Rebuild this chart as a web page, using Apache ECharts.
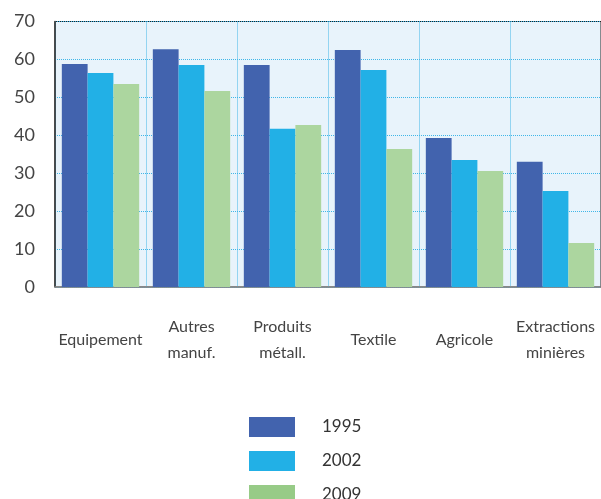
<!DOCTYPE html>
<html><head><meta charset="utf-8">
<script src="https://cdn.jsdelivr.net/npm/echarts@6/dist/echarts.min.js"></script>
<style>html,body{margin:0;padding:0;background:#fff}#c{width:601px;height:499px}</style>
</head><body><div id="c"></div>
<script>
const categories = ['Equipement', 'Autres\nmanuf.', 'Produits\nmétall.', 'Textile', 'Agricole', 'Extractions\nminières'];
const s1995 = [58.8, 62.7, 58.5, 62.5, 39.3, 33.0];
const s2002 = [56.4, 58.5, 41.7, 57.2, 33.5, 25.3];
const s2009 = [53.5, 51.7, 42.7, 36.4, 30.6, 11.6];
const yTicks = [0, 10, 20, 30, 40, 50, 60, 70];

const font = 'Lato, "Open Sans", sans-serif';
const chart = echarts.init(document.getElementById('c'), null, {renderer: 'canvas'});
chart.setOption({
  animation: false,
  textStyle: {fontFamily: font},
  grid: {left: 55, right: 0, top: 21.5, bottom: 212, show: true, backgroundColor: '#e8f3fb', borderColor: '#222', borderWidth: 1},
  legend: {
    orient: 'vertical', left: 244, top: 412, height: 200, itemWidth: 46, itemHeight: 20, itemGap: 14,
    icon: 'rect',
    textStyle: {fontSize: 17, color: '#333', fontFamily: font, padding: [0, 0, 0, 22]},
    data: [
      {name: '1995'},
      {name: '2002'},
      {name: '2009', itemStyle: {color: '#97cb87'}}
    ]
  },
  xAxis: {
    type: 'category', data: categories,
    axisLine: {lineStyle: {color: '#888', width: 1.5}},
    axisTick: {show: false},
    axisLabel: {fontSize: 16, color: '#444', fontFamily: font, lineHeight: 26, verticalAlign: 'middle', margin: 53, interval: 0},
    splitLine: {show: true, lineStyle: {type: 'dotted', color: '#3fb6e8', width: 1}}
  },
  yAxis: {
    type: 'value', min: yTicks[0], max: yTicks[yTicks.length - 1], interval: 10,
    axisLine: {show: true, lineStyle: {color: '#333', width: 1.5}},
    axisTick: {show: false},
    axisLabel: {fontSize: 18, color: '#444', fontFamily: font, margin: 20},
    splitLine: {show: true, lineStyle: {type: 'dotted', color: '#3fb6e8', width: 1}}
  },
  series: [
    {name: '1995', type: 'bar', data: s1995, barGap: '0%', barCategoryGap: '15%', itemStyle: {color: '#4263ae'}},
    {name: '2002', type: 'bar', data: s2002, barGap: '0%', barCategoryGap: '15%', itemStyle: {color: '#22b0e6'}},
    {name: '2009', type: 'bar', data: s2009, barGap: '0%', barCategoryGap: '15%', itemStyle: {color: '#acd69f'}}
  ]
});
</script></body></html>
